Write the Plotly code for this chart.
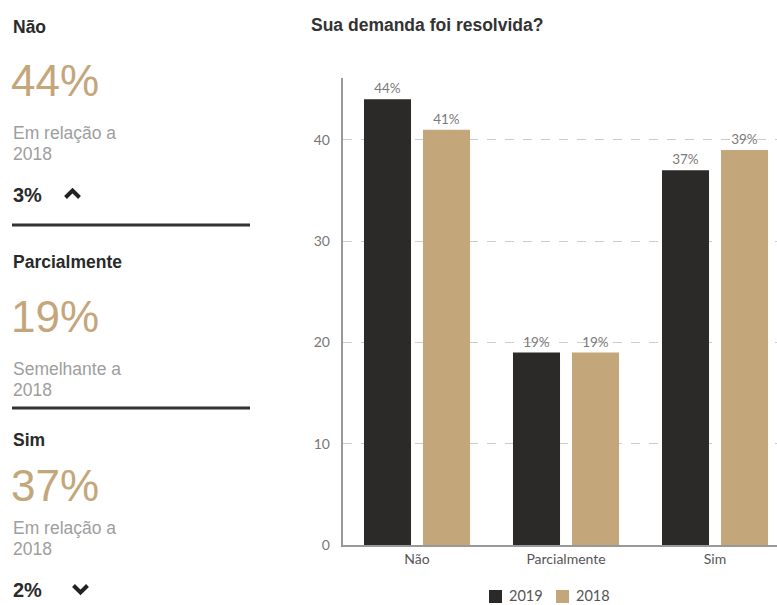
import plotly.graph_objects as go

# Survey answers: "Sua demanda foi resolvida?"
categories = ["Não", "Parcialmente", "Sim"]
values_2019 = [44, 19, 37]
values_2018 = [41, 19, 39]
series_names = ["2019", "2018"]

W, H = 777, 605
DARK = "#2c2a28"
TAN = "#c4a67b"
GRAY_TXT = "#9e9e9e"
series_colors = [DARK, TAN]


def px(x):
    return x / W


def py(y):
    return 1 - y / H


fig = go.Figure()
for name, vals, col in zip(series_names, [values_2019, values_2018], series_colors):
    fig.add_trace(go.Bar(
        x=categories, y=vals, name=name,
        marker=dict(color=col, line=dict(width=0)),
        texttemplate="%{y}%", textposition="outside",
        textfont=dict(family="Lato", size=13.5, color="#7a7a7a"),
        cliponaxis=False, showlegend=False,
    ))

annotations = []
shapes = []


def text(x, y, s, size, color, bold=False, family="Liberation Sans, Arial, sans-serif",
         yanchor="middle"):
    annotations.append(dict(
        x=px(x), y=py(y), xref="paper", yref="paper",
        xanchor="left", yanchor=yanchor, showarrow=False, borderpad=0,
        text=f"<b>{s}</b>" if bold else s,
        font=dict(family=family, size=size, color=color),
    ))


# Chart title
text(310, 25, "Sua demanda foi resolvida?", 17.5, "#333333", bold=True)

# Summary panel on the left, one block per answer
block_tops = [27, 262, 440]
for i, cat in enumerate(categories):
    top = block_tops[i]
    diff = values_2019[i] - values_2018[i]
    text(12, top, cat, 17.5, "#2a2a2a", bold=True)
    big_y = top + (53 if i == 0 else 54 if i == 1 else 45)
    text(10, big_y, f"{values_2019[i]}%", 44, TAN)
    sub_y = big_y + (53 if i != 2 else 43)
    if diff == 0:
        text(12, sub_y, "Semelhante a", 17.5, GRAY_TXT)
    else:
        text(12, sub_y, "Em relação a", 17.5, GRAY_TXT)
    text(12, sub_y + 21, "2018", 17.5, GRAY_TXT)
    if diff != 0:
        dy = sub_y + 62
        text(12, dy, f"{abs(diff)}%", 20, "#2a2a2a", bold=True)
        if diff > 0:
            cx, cy = 72.5, dy - 1
            path = (f"M{px(cx-7)},{py(cy+3.5)} L{px(cx)},{py(cy-3.5)} "
                    f"L{px(cx+7)},{py(cy+3.5)}")
        else:
            cx, cy = 80.5, dy - 1
            path = (f"M{px(cx-7)},{py(cy-3.5)} L{px(cx)},{py(cy+3.5)} "
                    f"L{px(cx+7)},{py(cy-3.5)}")
        shapes.append(dict(type="path", xref="paper", yref="paper", path=path,
                           line=dict(color="#222222", width=4)))

# Divider lines between blocks
for ly in [225, 408]:
    shapes.append(dict(type="line", xref="paper", yref="paper",
                       x0=px(12), x1=px(250), y0=py(ly), y1=py(ly),
                       line=dict(color="#333333", width=3)))

# Series key under the chart: colour square followed by the year
key_x = [489, 556]
for kx, name, col in zip(key_x, series_names, series_colors):
    shapes.append(dict(type="rect", xref="paper", yref="paper",
                       x0=px(kx), x1=px(kx + 13), y0=py(590), y1=py(603),
                       fillcolor=col, line=dict(width=0)))
    text(kx + 19, 604.5, name, 14.5, "#555555", family="Lato", yanchor="bottom")

fig.update_layout(
    width=W, height=H,
    margin=dict(l=0, r=0, t=0, b=0, autoexpand=False),
    paper_bgcolor="white", plot_bgcolor="white",
    barmode="group", bargap=0.208, bargroupgap=0.203,
    showlegend=False,
    annotations=annotations,
    shapes=shapes,
    xaxis=dict(
        domain=[px(342.5), 1], range=[-0.5, 2.416],
        showline=True, linecolor="#999999", linewidth=1.5,
        showgrid=False, ticks="", automargin=False,
        tickfont=dict(family="Lato", size=14, color="#555555"),
        fixedrange=True,
    ),
    yaxis=dict(
        domain=[py(545), py(78)], range=[0, 46.1],
        showline=True, linecolor="#999999", linewidth=1.5,
        showgrid=True, gridcolor="#cccccc", griddash="dash", gridwidth=1,
        zeroline=False, automargin=False,
        tickvals=[0, 10, 20, 30, 40],
        ticks="", ticklabelstandoff=8,
        tickfont=dict(family="Lato", size=14, color="#777777"),
        fixedrange=True,
    ),
)

fig.write_html("out.html")
